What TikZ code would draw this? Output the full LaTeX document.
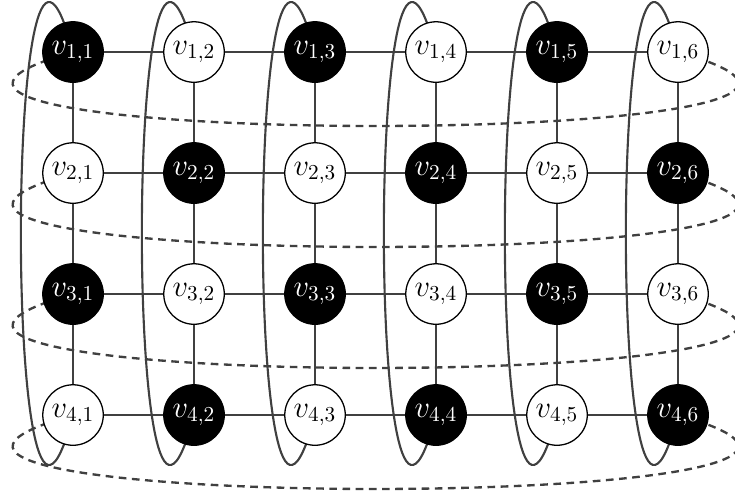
\documentclass[tikz,border=0pt]{standalone}
\usepackage{tikz}
\usetikzlibrary{backgrounds}
\definecolor{edgegray}{rgb}{.25,.25,.25}

\begin{document}
\begin{tikzpicture}[
    vtx/.style={circle, draw=black, line width=0.6pt, minimum size=1cm, inner sep=0pt, font=\Large},
    vtx0/.style={vtx, fill=black, text=white},
    vtx1/.style={vtx, fill=white},
    gridedge/.style={edgegray, line width=1pt},
    colloop/.style={edgegray, line width=1pt},
    rowloop/.style={edgegray, line width=1.1pt, dash pattern=on 3.6pt off 2.6pt}]
\useasboundingbox (-1.207,0.86) rectangle (10.942,-7.339);
\foreach \r in {1,...,4}
{
    \foreach \c in {1,...,6}
    {
        \pgfmathtruncatemacro{\parity}{mod(\r+\c,2)}
        \node[vtx\parity] (v-\r-\c) at ({2*(\c-1)}, {-2*(\r-1)}) {$v_{\r,\c}$};
    }
}
\begin{scope}[on background layer]
% grid edges
\foreach \r in {1,...,4}
{
    \foreach \c [evaluate=\c as \n using int(\c+1)] in {1,...,5}
    {
        \draw[gridedge] (v-\r-\c) -- (v-\r-\n);
    }
}
\foreach \c in {1,...,6}
{
    \foreach \r [evaluate=\r as \n using int(\r+1)] in {1,...,3}
    {
        \draw[gridedge] (v-\r-\c) -- (v-\n-\c);
    }
}
% loops round columns and rows
\foreach \c in {1,...,6}
{
    \draw[colloop] (v-4-\c.center) .. controls +(-1.15,-4.4) and +(-1.15,4.4) .. (v-1-\c.center);
}
\foreach \r in {1,...,4}
{
    \draw[rowloop] (v-\r-1.center) .. controls +(-5.8,-1.63) and +(5.8,-1.63) .. (v-\r-6.center);
}
\end{scope}
\end{tikzpicture}
\end{document}
